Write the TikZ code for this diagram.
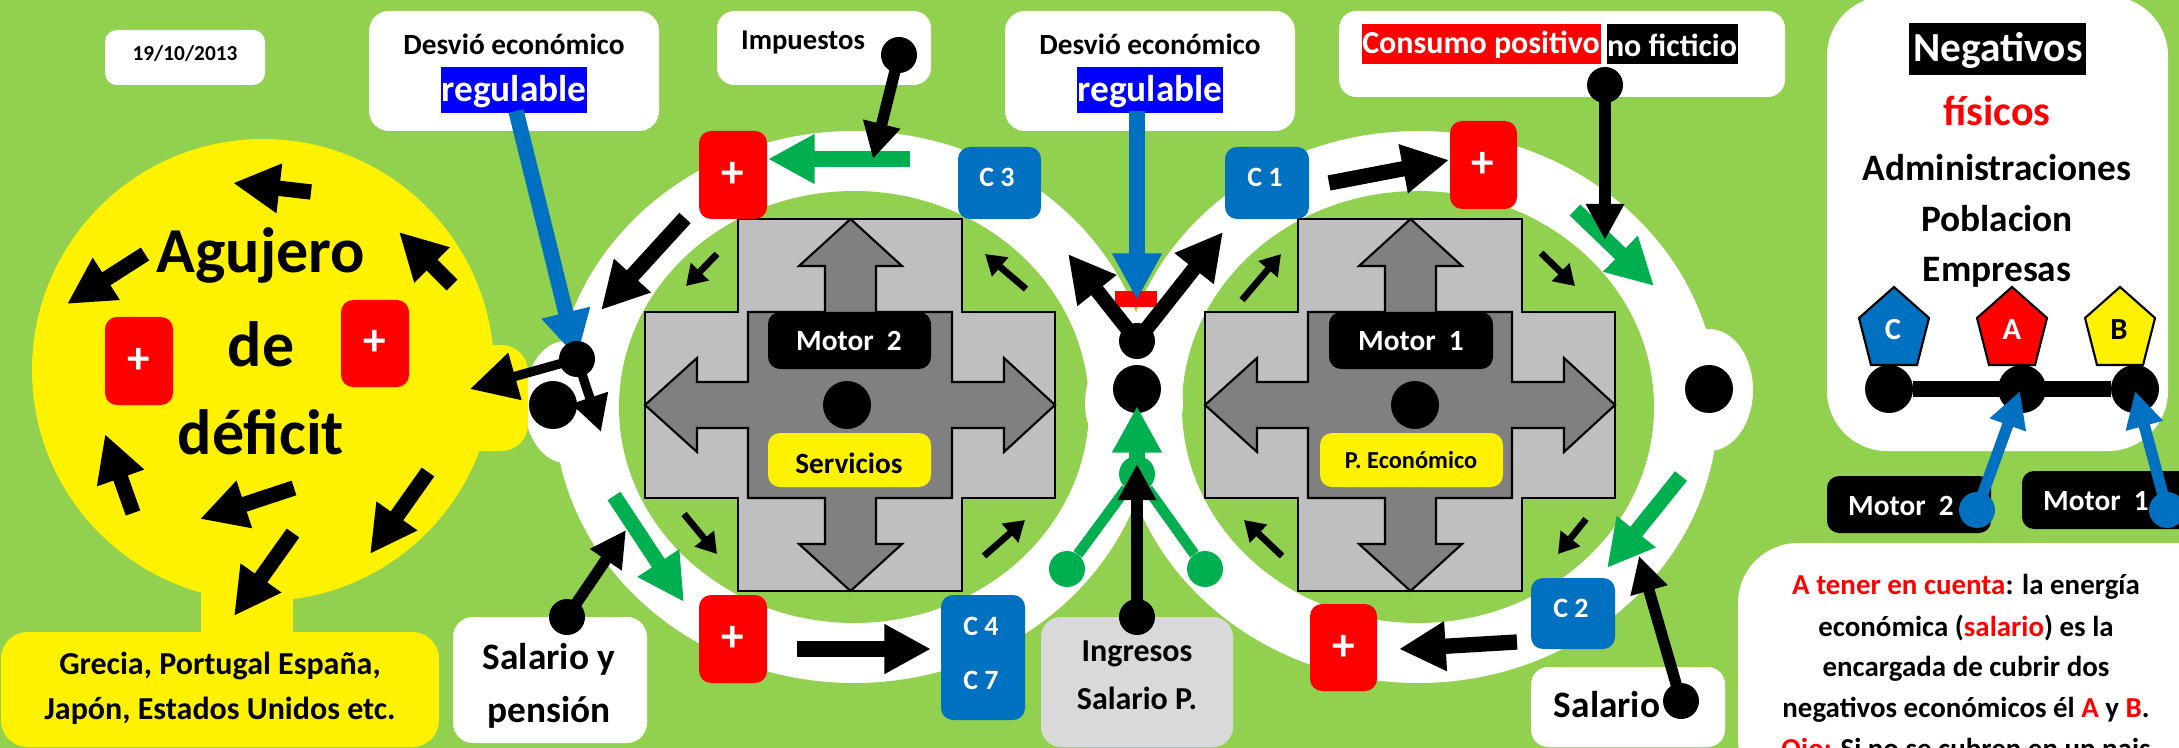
\documentclass[tikz,border=0pt]{standalone}
\usepackage{fontspec}
\setmainfont{Carlito}
\usetikzlibrary{arrows.meta}
\definecolor{bggreen}{HTML}{92D050}
\definecolor{ablue}{HTML}{0070C0}
\definecolor{agreen}{HTML}{00B050}
\definecolor{lgray}{HTML}{BFBFBF}
\definecolor{mgray}{HTML}{808080}
\definecolor{pgray}{HTML}{D9D9D9}
\definecolor{hblue}{HTML}{0000FF}
\newcommand\fs[1]{\fontsize{#1}{#1}\selectfont}
% box: style, name, x1,y1,x2,y2
\newcommand\bx[6]{\node[#1,minimum width={(#5-#3)*0.75pt},minimum height={(#6-#4)*0.75pt}] (#2) at ({(#3+#5)/2},{(#4+#6)/2}) {};}
% text: name,x,y,size,colour,text
\newcommand\tx[6]{\node[inner sep=0pt,text=#5,font=\bfseries\fs{#4}] (#1) at (#2,#3) {#6};}
% arrow: style, name, tail, tip
\newcommand\ar[4]{\coordinate (#2a) at #3; \coordinate (#2b) at #4; \draw[#1] (#2a) -- (#2b);}
\newcommand\dt[5][black]{\node[dotn,fill=#1,minimum width={2*#5*0.75pt}] (#2) at (#3,#4) {};}
\newcommand\crossshape[1]{\begin{scope}[shift={(#1,0)}]
\draw[crossline,fill=lgray] (738,219) -- (962,219) -- (962,312) -- (1055,312) -- (1055,498) -- (962,498) -- (962,591) -- (738,591) -- (738,498) -- (645,498) -- (645,312) -- (738,312) -- cycle;
\draw[crossline,fill=mgray] (850.5,219) -- (902,266) -- (876,266) -- (876,312) -- (952,312) -- (952,382) -- (1004,382) -- (1004,358) -- (1055,405) -- (1004,452) -- (1004,428) -- (952,428) -- (952,498) -- (876,498) -- (876,544) -- (902,544) -- (850.5,591) -- (799,544) -- (825,544) -- (825,498) -- (748,498) -- (748,428) -- (697,428) -- (697,452) -- (645,405) -- (697,358) -- (697,382) -- (748,382) -- (748,312) -- (825,312) -- (825,266) -- (799,266) -- cycle;
\end{scope}}
\newcommand\penta[2]{\draw[crossline,fill=#2] (#1,287) -- ({#1+35},318) -- ({#1+23},365) -- ({#1-23},365) -- ({#1-35},318) -- cycle;}
\tikzset{
 crossline/.style={draw=black,line width=1.6pt,line join=miter},
 dotn/.style={circle,inner sep=0pt,draw=none},
 wbox/.style={rounded corners=15pt,fill=white,inner sep=0pt,draw=none},
 wboxs/.style={rounded corners=9pt,fill=white,inner sep=0pt,draw=none},
 redb/.style={rounded corners=9pt,fill=red,inner sep=0pt,draw=none},
 blueb/.style={rounded corners=9pt,fill=ablue,inner sep=0pt,draw=none},
 blackb/.style={rounded corners=9pt,fill=black,inner sep=0pt,draw=none},
 yelb/.style={rounded corners=9pt,fill=yellow,inner sep=0pt,draw=none},
 hl/.style={fill=#1,inner sep=0pt,draw=none},
 bigarrow/.style={draw=#1,line width=11.5pt,-{Triangle[length=35pt,width=35pt,fill=#1]}},
 thinbig/.style={draw=#1,line width=7pt,-{Triangle[length=35pt,width=35pt,fill=#1]}},
 ybig/.style={draw=#1,line width=11pt,-{Triangle[length=35pt,width=35pt,fill=#1]}},
 medarrow/.style={draw=#1,line width=8.5pt,-{Triangle[length=27pt,width=27pt,fill=#1]}},
 smallarrow/.style={draw=black,line width=5pt,-{Triangle[length=15pt,width=18pt,fill=black]}},
}
\begin{document}
\begin{tikzpicture}[x=0.75pt,y=-0.75pt]
\clip (0,0) rectangle (2179,748);
\fill[bggreen] (0,0) rectangle (2179,748);
% rings
\fill[white] (854,407) ellipse [x radius=300,y radius=276];
\fill[white] (1418,407) ellipse [x radius=300,y radius=276];
\fill[white] (566,402) ellipse [x radius=42,y radius=61];
\fill[white] (1709,390) ellipse [x radius=44,y radius=61];
\fill[bggreen] (854,407) ellipse [x radius=235,y radius=216];
\fill[bggreen] (1418,407) ellipse [x radius=236,y radius=216];
\fill[white] (1134,403) ellipse [x radius=49,y radius=60];
% yellow hole
\fill[yellow] (263,370) circle [radius=231];
\bx{yelb,rounded corners=20pt}{tabr}{440}{345}{528}{451}
\bx{hl=yellow}{tabb}{201}{570}{293}{640}
\bx{yelb,rounded corners=20pt}{paises}{1}{632}{439}{747}
\crossshape{0}
\crossshape{560}
% boxes
\bx{wboxs}{date}{105}{30}{265}{85}
\bx{wbox}{desv1}{369}{11}{659}{131}
\bx{wboxs,rounded corners=13pt}{imp}{717}{11}{931}{85}
\bx{wbox}{desv2}{1005}{11}{1295}{131}
\bx{wboxs,rounded corners=13pt}{cons}{1339}{11}{1785}{97}
\bx{wbox,rounded corners=45pt}{nega}{1827}{-4}{2168}{451}
\bx{wbox,rounded corners=45pt}{nota}{1738}{543}{2260}{800}
\bx{wbox}{salpen}{453}{617}{647}{743}
\bx{wbox,fill=pgray}{ingr}{1041}{617}{1233}{747}
\bx{wboxs,rounded corners=13pt}{sal}{1531}{667}{1725}{747}
\bx{hl=hblue}{reg1}{441}{67}{587}{113}
\bx{hl=hblue}{reg2}{1077}{67}{1223}{113}
\bx{hl=red}{hlcons}{1362}{24}{1601}{64}
\bx{hl=black}{hlnof}{1607}{24}{1738}{64}
\bx{hl=black}{hlneg}{1909}{23}{2086}{75}
\bx{hl=red}{bar}{1115}{291}{1157}{307}
\bx{redb}{r1}{105}{317}{173}{405}
\bx{redb}{r2}{341}{300}{409}{387}
\bx{redb}{r3}{699}{131}{767}{219}
\bx{redb}{r4}{699}{595}{767}{683}
\bx{redb}{r5}{1450}{121}{1517}{209}
\bx{redb}{r6}{1310}{604}{1377}{691}
\bx{blueb}{c3}{958}{147}{1041}{219}
\bx{blueb}{c1}{1225}{147}{1309}{219}
\bx{blueb}{c47}{941}{595}{1025}{720}
\bx{blueb}{c2}{1531}{578}{1615}{649}
\bx{blackb}{m2}{768}{312}{931}{369}
\bx{blackb}{m1}{1329}{312}{1493}{369}
\bx{yelb}{serv}{768}{433}{931}{487}
\bx{yelb}{pec}{1320}{433}{1503}{487}
\bx{blackb}{mb2}{1827}{476}{1991}{533}
\bx{blackb}{mb1}{2022}{471}{2200}{529}
% pentagons
\penta{1894}{ablue}
\penta{2012}{red}
\penta{2120}{yellow}
% texts
\tx{t1}{185}{54}{16}{black}{19/10/2013}
\tx{t2}{514}{44}{22}{black}{Desvió económico}
\tx{t3}{514}{92}{28}{white}{regulable}
\tx{t4}{803}{42}{21.5}{black}{Impuestos}
\tx{t5}{1150}{44}{22}{black}{Desvió económico}
\tx{t6}{1150}{92}{28}{white}{regulable}
\tx{t7}{1481}{45}{24}{white}{Consumo positivo}
\tx{t8}{1672}{45}{24}{white}{no ficticio}
\tx{t9}{1998}{50}{31}{white}{Negativos}
\tx{t10}{1997}{111}{31.5}{red}{físicos}
\tx{t11}{1997}{168}{28}{black}{Administraciones}
\tx{t12}{1997}{219}{28}{black}{Poblacion}
\tx{t13}{1997}{272}{28}{black}{Empresas}
\tx{t14}{261}{255}{48}{black}{Agujero}
\tx{t15}{261}{344}{48}{black}{de}
\tx{t16}{261}{432}{48}{black}{déficit}
\tx{t17}{220}{666}{24}{black}{Grecia, Portugal España,}
\tx{t18}{220}{711}{24}{black}{Japón, Estados Unidos etc.}
\tx{t19}{549}{659}{28}{black}{Salario y}
\tx{t20}{549}{712}{28}{black}{pensión}
\tx{t21}{1137}{654}{24}{black}{Ingresos}
\tx{t22}{1137}{698}{24}{black}{Salario P.}
\tx{t23}{1607}{705}{28}{black}{Salario}
\tx{p1}{139}{361}{34}{white}{+}
\tx{p2}{375}{343}{34}{white}{+}
\tx{p3}{733}{175}{34}{white}{+}
\tx{p4}{733}{639}{34}{white}{+}
\tx{p5}{1483}{165}{34}{white}{+}
\tx{p6}{1344}{648}{34}{white}{+}
\tx{t24}{997}{177}{21}{white}{C 3}
\tx{t25}{1265}{177}{21}{white}{C 1}
\tx{t26}{981}{626}{21}{white}{C 4}
\tx{t27}{981}{680}{21}{white}{C 7}
\tx{t28}{1571}{608}{21}{white}{C 2}
\tx{t29}{849}{341}{22}{white}{Motor\ \ 2}
\tx{t30}{1411}{341}{22}{white}{Motor\ \ 1}
\tx{t31}{849}{463}{22}{black}{Servicios}
\tx{t32}{1411}{460}{18.3}{black}{P. Económico}
\tx{t33}{1893}{330}{23}{white}{C}
\tx{t34}{2012}{330}{23}{white}{A}
\tx{t35}{2119}{330}{23}{black}{B}
\tx{t36}{1901}{506}{22}{white}{Motor\ \ 2}
\tx{t37}{2096}{501}{22}{white}{Motor\ \ 1}
\tx{n1}{1966}{587}{21.7}{black}{\textcolor{red}{A tener en cuenta}: la energía}
\tx{n2}{1966}{628}{21.7}{black}{económica (\textcolor{red}{salario}) es la}
\tx{n3}{1966}{669}{21.7}{black}{encargada de cubrir dos}
\tx{n4}{1966}{710}{21.7}{black}{negativos económicos él \textcolor{red}{A} y \textcolor{red}{B}.}
\tx{n5}{1966}{751}{21.7}{black}{\textcolor{red}{Ojo:} Si no se cubren en un pais}
% big dots
\dt{hub1}{847}{405}{24}
\dt{hub2}{1415}{405}{24}
\dt{dl}{553}{405}{24}
\dt{dc}{1137}{389}{24}
\dt{dr}{1709}{389}{24}
% connecting bar
\dt{n1d}{1889}{389}{24}
\dt{n2d}{2022}{389}{24}
\dt{n3d}{2135}{389}{24}
\draw[line width=12pt] (n1d) -- (n3d);
% hole arrows
\ar{bigarrow=black}{a}{(311,192)}{(233,183)}
\ar{bigarrow=black}{b}{(145,254)}{(67,304)}
\ar{bigarrow=black}{c}{(452,285)}{(399,232)}
\ar{bigarrow=black}{d}{(133,513)}{(105,434)}
\ar{bigarrow=black}{e}{(294,488)}{(200,519)}
\ar{bigarrow=black}{f}{(428,472)}{(370,554)}
\ar{bigarrow=black}{g}{(293,533)}{(234,616)}
\ar{bigarrow=black}{h}{(685,218)}{(601,310)}
% ring arrows
\ar{bigarrow=agreen}{g1}{(910,159)}{(768,159)}
\ar{bigarrow=agreen}{g2}{(614,496)}{(684,602)}
\ar{bigarrow=agreen}{g3}{(1575,210)}{(1654,286)}
\ar{bigarrow=agreen}{g4}{(1681,476)}{(1607,568)}
\ar{bigarrow=black}{k1}{(797,649)}{(931,649)}
\ar{bigarrow=black}{k2}{(1329,183)}{(1449,160)}
\ar{bigarrow=black}{k3}{(1517,642)}{(1399,649)}
% small inner arrows
\ar{smallarrow}{s1}{(717,254)}{(686,286)}
\ar{smallarrow}{s2}{(684,514)}{(717,554)}
\ar{smallarrow}{s3}{(1026,289)}{(985,254)}
\ar{smallarrow}{s4}{(984,556)}{(1025,520)}
\ar{smallarrow}{s5}{(1242,300)}{(1281,254)}
\ar{smallarrow}{s6}{(1282,556)}{(1244,520)}
\ar{smallarrow}{s7}{(1541,253)}{(1575,286)}
\ar{smallarrow}{s8}{(1586,519)}{(1558,554)}
% blue valves
\ar{bigarrow=ablue}{v2}{(1137,111)}{(1137,300)}
\dt{q}{1137}{341}{18}
\ar{ybig=black}{v3}{(q.center)}{(1068,254)}
\ar{ybig=black}{v4}{(q.center)}{(1223,232)}
\ar{bigarrow=ablue}{v1}{(516,111)}{(577,358)}
\dt{w}{577}{359}{18}
\ar{thinbig=black}{w1}{(w.center)}{(470,389)}
\ar{medarrow=black,line width=7pt}{w2}{(w.center)}{(601,432)}
% green inputs
\dt[agreen]{g5}{1137}{474}{18}
\dt[agreen]{g6}{1067}{569}{18}
\dt[agreen]{g7}{1205}{569}{18}
\draw[agreen,line width=8pt] (g6) -- (g5);
\draw[agreen,line width=8pt] (g7) -- (g5);
\ar{bigarrow=agreen}{g8}{(g5.center)}{(1137,406)}
\dt{i}{1137}{617}{18}
\ar{medarrow=black}{i1}{(i.center)}{(1137,464)}
% input arrows
\dt{im}{899}{55}{18}
\ar{medarrow=black}{im1}{(im.center)}{(873,159)}
\dt{sp}{567}{617}{18}
\ar{medarrow=black}{sp1}{(sp.center)}{(626,530)}
\dt{co}{1605}{85}{18}
\ar{medarrow=black}{co1}{(co.center)}{(1605,240)}
\dt{sa}{1681}{701}{18}
\ar{medarrow=black}{sa1}{(sa.center)}{(1639,556)}
\dt[ablue]{mo2}{1977}{510}{18}
\ar{medarrow=ablue}{mo2a}{(mo2.center)}{(2020,391)}
\dt[ablue]{mo1}{2167}{510}{18}
\ar{medarrow=ablue}{mo1a}{(mo1.center)}{(2135,391)}
\end{tikzpicture}
\end{document}
